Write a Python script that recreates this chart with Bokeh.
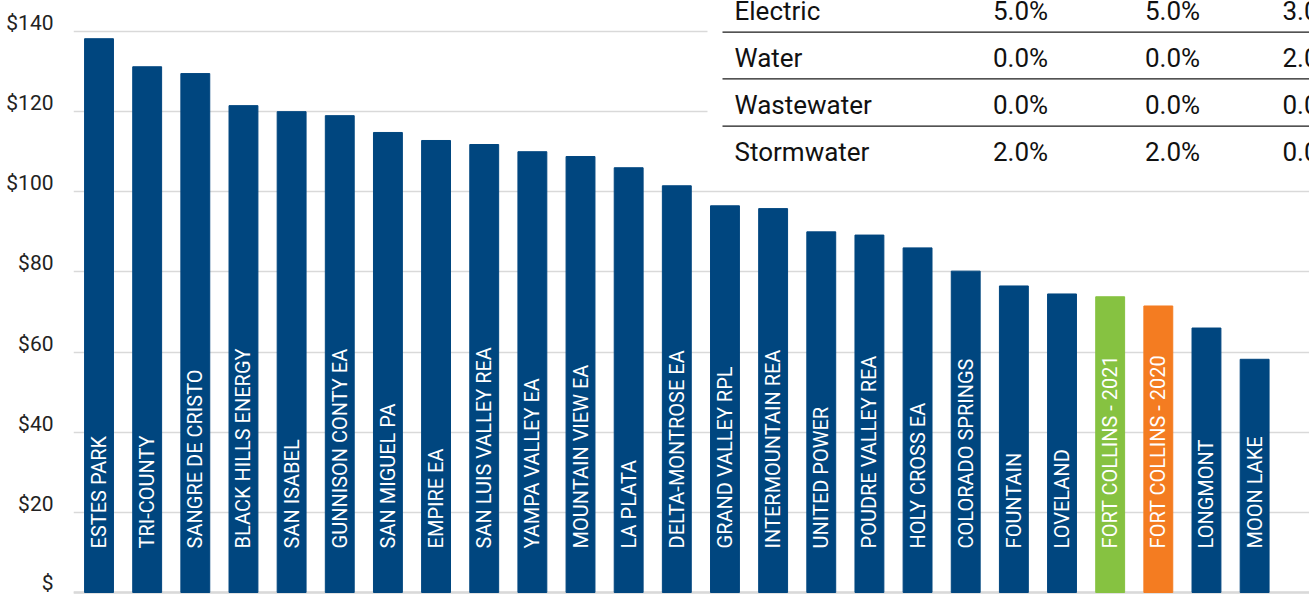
import math
from bokeh.plotting import figure
from bokeh.models import Range1d, FixedTicker, Span, ColumnDataSource, LinearAxis
from bokeh.core.properties import value
from bokeh.embed import file_html
from bokeh.resources import INLINE

# ---------------- data ----------------
utilities = ["ESTES PARK", "TRI-COUNTY", "SANGRE DE CRISTO", "BLACK HILLS ENERGY", "SAN ISABEL",
             "GUNNISON CONTY EA", "SAN MIGUEL PA", "EMPIRE EA", "SAN LUIS VALLEY REA",
             "YAMPA VALLEY EA", "MOUNTAIN VIEW EA", "LA PLATA", "DELTA-MONTROSE EA",
             "GRAND VALLEY RPL", "INTERMOUNTAIN REA", "UNITED POWER", "POUDRE VALLEY REA",
             "HOLY CROSS EA", "COLORADO SPRINGS", "FOUNTAIN", "LOVELAND",
             "FORT COLLINS - 2021", "FORT COLLINS - 2020", "LONGMONT", "MOON LAKE"]
monthly_bill = [138.2, 131.2, 129.5, 121.5, 120.0, 119.0, 114.8, 112.8, 111.8, 110.0,
                108.8, 106.0, 101.5, 96.5, 95.8, 90.0, 89.2, 86.0, 80.2, 76.5,
                74.5, 73.8, 71.5, 66.0, 58.2]
highlight = {"FORT COLLINS - 2021": "#86c241", "FORT COLLINS - 2020": "#f47c21"}

y_ticks = [0, 20, 40, 60, 80, 100, 120, 140]
y_tick_labels = ["$", "$20", "$40", "$60", "$80", "$100", "$120", "$140"]

table_rows = ["Electric", "Water", "Wastewater", "Stormwater"]
table_col1 = ["5.0%", "0.0%", "0.0%", "2.0%"]
table_col2 = ["5.0%", "0.0%", "0.0%", "2.0%"]
table_col3 = ["3.0%", "2.0%", "0.0%", "0.0%"]

# ---------------- layout helpers ----------------
NAVY = "#00467f"
FONT = value("Roboto")
W, H = 1309, 594
FRAME_LEFT_PX = 73
FRAME_TOP_PX = 0
FRAME_BOTTOM_PX = 594
ZERO_PX = 592
PX_PER_CAT = 48.15
PX_PER_USD = (ZERO_PX - 31) / 140.0
X_START = -0.53
X_END = X_START + (W - FRAME_LEFT_PX) / PX_PER_CAT
Y_END = (ZERO_PX - FRAME_TOP_PX) / PX_PER_USD
Y_START = (ZERO_PX - FRAME_BOTTOM_PX) / PX_PER_USD
LABEL_SHIFT = 8.5 / PX_PER_USD   # tick labels sit slightly above their gridlines


def dx(px):
    return X_START + (px - FRAME_LEFT_PX) / PX_PER_CAT


def dy(py):
    return (ZERO_PX - py) / PX_PER_USD


p = figure(width=W, height=H, output_backend="svg", toolbar_location=None,
           x_range=Range1d(X_START, X_END), y_range=Range1d(Y_START, Y_END),
           x_axis_location=None, y_axis_location=None,
           min_border_left=FRAME_LEFT_PX, min_border_right=0,
           min_border_top=0, min_border_bottom=0)
p.outline_line_color = None
p.xgrid.visible = False
p.ygrid.ticker = FixedTicker(ticks=y_ticks)
p.ygrid.grid_line_color = "#d9d9d9"
p.ygrid.grid_line_width = 1.3

p.extra_y_ranges = {"labels": Range1d(Y_START - LABEL_SHIFT, Y_END - LABEL_SHIFT)}
yax = LinearAxis(y_range_name="labels", ticker=FixedTicker(ticks=y_ticks),
                 major_label_overrides={t: l for t, l in zip(y_ticks, y_tick_labels)},
                 axis_line_color=None, major_tick_line_color=None, minor_tick_line_color=None,
                 major_tick_out=0, major_tick_in=0, minor_tick_out=0, minor_tick_in=0,
                 major_label_text_font="Roboto", major_label_text_font_size="21px",
                 major_label_text_color="#222222", major_label_standoff=20)
p.add_layout(yax, "left")

p.add_layout(Span(location=0, dimension="width", line_color="#d9d9d9", line_width=2.5, level="underlay"))

idx = list(range(len(utilities)))
colors = [highlight.get(u, NAVY) for u in utilities]
src = ColumnDataSource(dict(x=idx, top=monthly_bill, name=utilities, color=colors))
p.vbar(x="x", top="top", bottom=0, width=0.6, color="color", source=src)

LABEL_Y = 11
p.text(x="x", y=LABEL_Y, text="name", source=src, angle=math.pi / 2, text_align="left",
       text_baseline="middle", text_color="white", text_font=FONT, text_font_size="20px")

# ---------------- overlay table ----------------
p.quad(left=dx(707), right=dx(1400), bottom=dy(178), top=dy(-20), fill_color="white", line_color=None)
for ly in (31.7, 78.3, 125.7):
    p.segment(x0=dx(722), x1=dx(1400), y0=dy(ly), y1=dy(ly), line_color="#1a1a1a", line_width=1.3)
row_y = [dy(py) for py in (10.5, 57.5, 104.0, 151.5)]
tsrc = ColumnDataSource(dict(y=row_y, row=table_rows, c1=table_col1, c2=table_col2, c3=table_col3))
common = dict(y="y", source=tsrc, text_baseline="middle", text_color="#111111",
              text_font=FONT, text_font_size="26px")
p.text(x=dx(734), text="row", text_align="left", **common)
p.text(x=dx(1020), text="c1", text_align="center", **common)
p.text(x=dx(1172), text="c2", text_align="center", **common)
p.text(x=dx(1282), text="c3", text_align="left", **common)

open("out.html", "w").write(file_html(p, INLINE))
